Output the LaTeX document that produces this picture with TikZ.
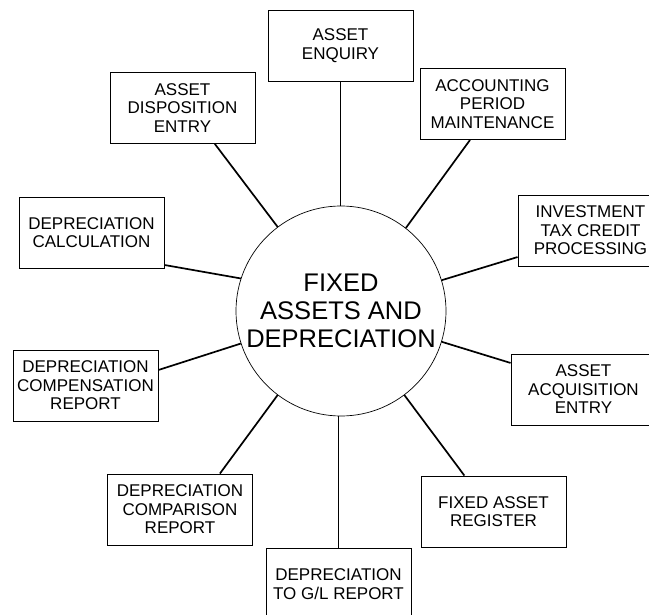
\documentclass[tikz,border=0pt]{standalone}
\usepackage{fontspec}
\setmainfont{Liberation Sans}
\begin{document}
\begin{tikzpicture}[x=1pt,y=-1pt,
  modbox/.style={draw=black,line width=0.9pt,rectangle,minimum width=145pt,minimum height=71pt,inner sep=0pt,align=center,font=\fontsize{17}{18.5}\selectfont},
  hub/.style={draw=black,line width=0.7pt,circle,minimum size=210pt,inner sep=0pt,align=center,font=\fontsize{25.5}{28}\selectfont},
  link/.style={line width=1.7pt,line cap=butt}]
\clip (0,0) rectangle (649,615);
\fill[white] (0,0) rectangle (649,615);
\node[hub] (c) at (341,311) {FIXED\\ASSETS AND\\DEPRECIATION};
\node[modbox] (ae) at (340.5,45.5) {ASSET\\ENQUIRY};
\node[modbox] (ad) at (182.5,108) {ASSET\\DISPOSITION\\ENTRY};
\node[modbox] (ap) at (492.5,104) {ACCOUNTING\\PERIOD\\MAINTENANCE};
\node[modbox] (dc) at (91.5,232.5) {DEPRECIATION\\CALCULATION};
\node[modbox] (it) at (590.5,230.5) {INVESTMENT\\TAX CREDIT\\PROCESSING};
\node[modbox] (dp) at (85.5,385.5) {DEPRECIATION\\COMPENSATION\\REPORT};
\node[modbox] (aq) at (583.5,389.5) {ASSET\\ACQUISITION\\ENTRY};
\node[modbox] (dr) at (180,509.5) {DEPRECIATION\\COMPARISON\\REPORT};
\node[modbox] (gl) at (338.5,584) {DEPRECIATION\\TO G/L REPORT};
\node[modbox] (fr) at (493.5,511.5) {FIXED ASSET\\REGISTER};
\draw[link] (ae.south) -- (ae.south |- c.north);
\draw[link] (ad.-48) -- (c.127.6);
\draw[link] (ap.-122) -- (c.52.8);
\draw[link] (dc.-24.4) -- (c.162.7);
\draw[link] (it.-160.6) -- (c.17.8);
\draw[link] (dp.12.8) -- (c.-162.7);
\draw[link] (aq.160.6) -- (c.-17.4);
\draw[link] (dr.42.3) -- (c.-127.4);
\draw[link] (c.south -| gl.north) -- (gl.north);
\draw[link] (fr.129.7) -- (c.-53.8);
\end{tikzpicture}
\end{document}
